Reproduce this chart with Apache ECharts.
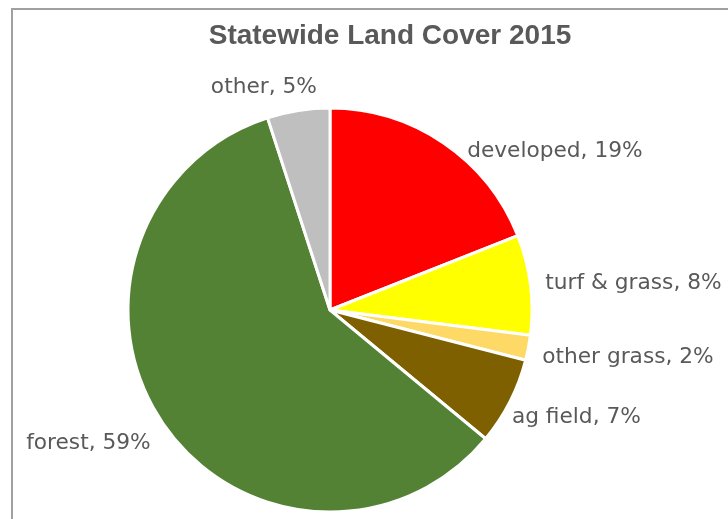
<!DOCTYPE html>
<html><head><meta charset="utf-8">
<script src="https://cdn.jsdelivr.net/npm/echarts@6/dist/echarts.min.js"></script>
<style>html,body{margin:0;padding:0;background:#fff;}#c{width:728px;height:519px;}</style>
</head><body><div id="c"></div>
<script>
const categories = ['developed', 'turf & grass', 'other grass', 'ag field', 'forest', 'other'];
const shares = [19, 8, 2, 7, 59, 5];
const colors = ['#FF0000', '#FFFF00', '#FFD966', '#7F6000', '#548235', '#BFBFBF'];
const labelNudge = [[13, 17], [0, 0], [-1, 8], [-12, 11], [1, 14], [25, -13]];

const chart = echarts.init(document.getElementById('c'));
chart.setOption({
  animation: false,
  title: {
    text: 'Statewide Land Cover 2015',
    left: 385, top: 17, textAlign: 'center',
    textStyle: {fontFamily: 'Liberation Sans', fontWeight: 'bold', fontSize: 28, color: '#595959'}
  },
  graphic: [
    {type: 'polyline', shape: {points: [[12, 519], [12, 9], [728, 9]]}, style: {stroke: '#A0A0A0', lineWidth: 2, fill: null}}
  ],
  series: [{
    type: 'pie',
    center: [330, 310],
    radius: 202,
    startAngle: 90,
    clockwise: true,
    avoidLabelOverlap: false,
    itemStyle: {borderColor: '#fff', borderWidth: 3},
    label: {
      show: true, position: 'outside', distanceToLabelLine: 5,
      formatter: p => p.name + ', ' + p.value + '%',
      fontFamily: 'DejaVu Sans', fontSize: 21.7, color: '#595959'
    },
    labelLine: {show: false, length: 10, length2: 0},
    labelLayout: p => ({dx: labelNudge[p.dataIndex][0], dy: labelNudge[p.dataIndex][1]}),
    data: categories.map((c, i) => ({name: c, value: shares[i], itemStyle: {color: colors[i]}}))
  }]
});
</script></body></html>
